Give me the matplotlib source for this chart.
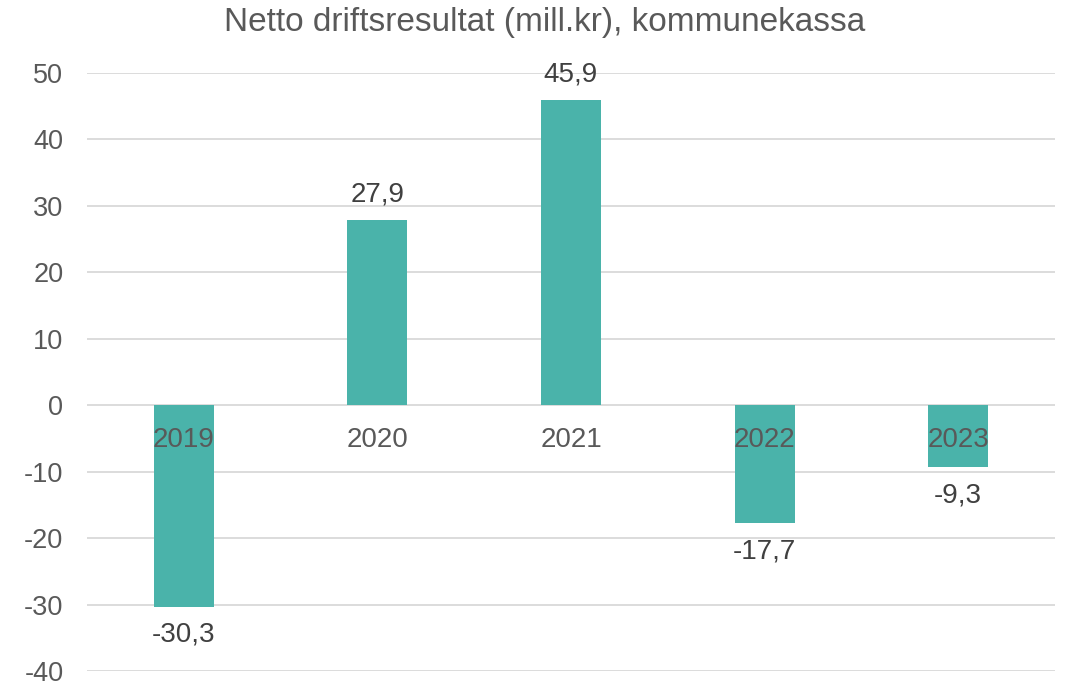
import numpy as np
import matplotlib.pyplot as plt

plt.rcParams['font.family'] = ['Liberation Sans', 'DejaVu Sans']
plt.rcParams['axes.unicode_minus'] = False

years = ['2019', '2020', '2021', '2022', '2023']
values = [-30.3, 27.9, 45.9, -17.7, -9.3]
labels = ['-30,3', '27,9', '45,9', '-17,7', '-9,3']

BAR = '#4AB3AA'
GRID = '#D9D9D9'
TICK = '#595959'
LABEL = '#404040'

fig = plt.figure(figsize=(10.66, 6.83), dpi=100)
ax = fig.add_axes([87/1066, 1 - 671/683, 968/1066, 598/683])

x = np.arange(len(years))
ax.bar(x, values, width=0.31, color=BAR, zorder=2)

ax.set_xlim(-0.5, len(years) - 0.5)
ax.set_ylim(-40, 50)
ax.set_yticks(range(-40, 51, 10))
ax.yaxis.grid(True, color=GRID, linewidth=1.3, zorder=0)
ax.set_xticks([])
for s in ax.spines.values():
    s.set_visible(False)
ax.tick_params(axis='y', length=0, pad=17, labelsize=19.5, labelcolor=TICK)

# category labels sit just under the zero line
for xi, yr in zip(x, years):
    ax.annotate(yr, (xi, 0), xytext=(0, -16), textcoords='offset points',
                ha='center', va='top', fontsize=20, color=TICK, zorder=3)

# value labels
for xi, v, lab in zip(x, values, labels):
    off = 9 if v > 0 else -11
    ax.annotate(lab, (xi, v), xytext=(0, off), textcoords='offset points',
                ha='center', va='bottom' if v > 0 else 'top',
                fontsize=20, color=LABEL, zorder=3)

fig.text(545/1066, 1 - 22/683, 'Netto driftsresultat (mill.kr), kommunekassa',
         ha='center', va='center', fontsize=24, color=TICK)

fig.savefig('out.png', dpi=100)
